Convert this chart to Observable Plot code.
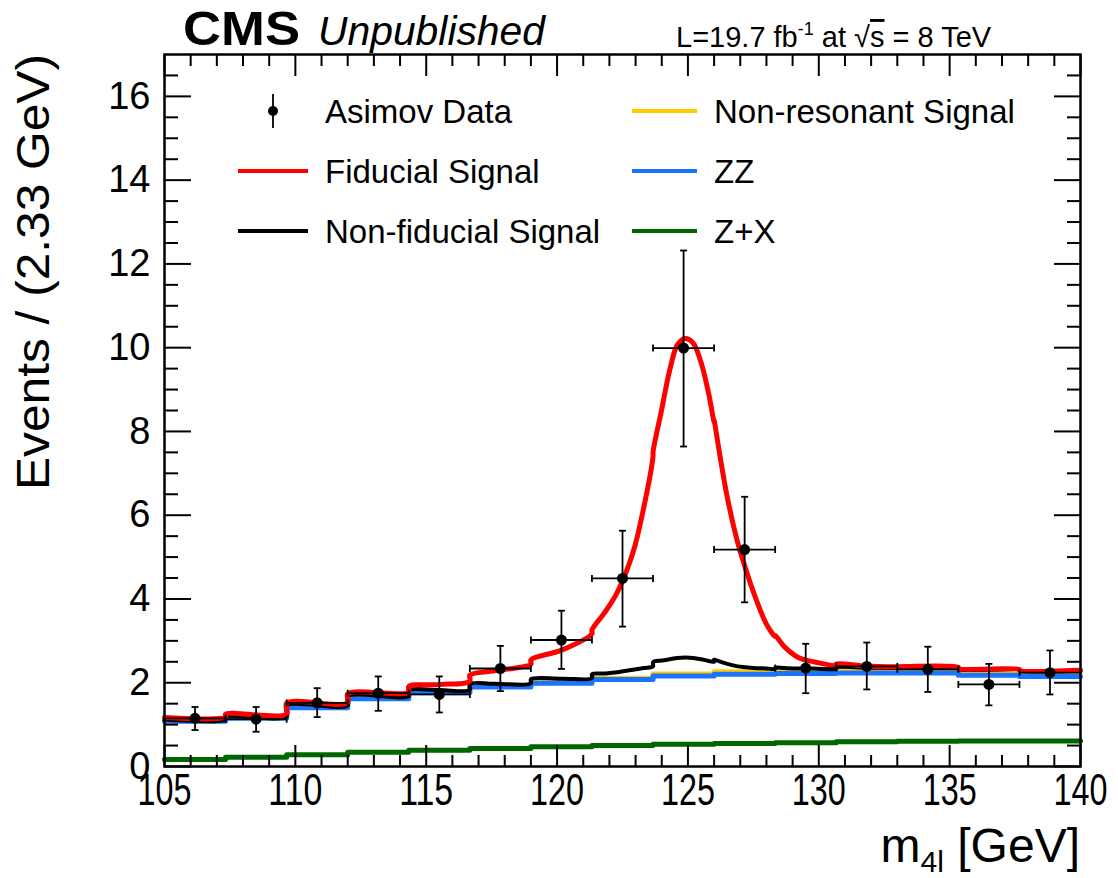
<!DOCTYPE html>
<html>
<head>
<meta charset="utf-8">
<script src="https://cdn.jsdelivr.net/npm/d3@7"></script>
<script src="https://cdn.jsdelivr.net/npm/@observablehq/plot@0.6"></script>
<style>
  body { margin: 0; background: #fff; }
  #chart { width: 1118px; height: 878px; }
</style>
</head>
<body>
<div id="chart"></div>
<script>
// ---------------- data ----------------
const binEdges = [105, 107.333, 109.667, 112, 114.333, 116.667, 119, 121.333, 123.667, 126, 128.333, 130.667, 133, 135.333, 137.667, 140];

// background templates, per bin (events / 2.33 GeV)
const zxBins     = [0.17, 0.22, 0.28, 0.34, 0.39, 0.43, 0.47, 0.50, 0.53, 0.55, 0.57, 0.59, 0.60, 0.61, 0.61];
const zzBins     = [0.91, 0.93, 1.12, 1.28, 1.37, 1.47, 1.52, 1.58, 1.63, 1.65, 1.65, 1.64, 1.63, 1.57, 1.54];
const nonresBins = [0.01, 0.01, 0.02, 0.02, 0.02, 0.02, 0.03, 0.03, 0.05, 0.06, 0.07, 0.09, 0.09, 0.11, 0.12];

// signal shapes sampled along m4l
const sigMass   = [105, 107.333, 109.667, 112, 114.333, 115.5, 116.667, 117.6, 119, 120.2, 121.333, 121.8, 122.3, 122.9, 123.3, 123.667, 124.0, 124.3, 124.6, 124.9, 125.2, 125.5, 125.8, 126, 126.2, 126.5, 126.9, 127.2, 127.5, 128.0, 128.333, 128.7, 129.2, 129.8, 130.667, 131.8, 133, 135.333, 137.667, 140];
const fidSig    = [0.05, 0.06, 0.06, 0.06, 0.09, 0.13, 0.21, 0.31, 0.46, 0.69, 1.06, 1.44, 1.91, 2.80, 3.80, 5.02, 6.00, 6.89, 7.48, 7.62, 7.52, 7.09, 6.36, 5.72, 5.00, 3.99, 2.96, 2.36, 1.82, 1.06, 0.77, 0.50, 0.27, 0.16, 0.09, 0.04, 0.03, 0.02, 0.01, 0.01];
const nonfidSig = [0.03, 0.03, 0.035, 0.04, 0.04, 0.045, 0.05, 0.055, 0.065, 0.075, 0.09, 0.11, 0.14, 0.20, 0.24, 0.28, 0.32, 0.35, 0.38, 0.39, 0.38, 0.35, 0.31, 0.29, 0.25, 0.19, 0.13, 0.11, 0.09, 0.08, 0.07, 0.06, 0.05, 0.05, 0.04, 0.04, 0.03, 0.03, 0.02, 0.02];

// Asimov data
const dataY  = [1.15, 1.13, 1.52, 1.75, 1.72, 2.34, 3.02, 4.49, 9.99, 5.18, 2.35, 2.39, 2.32, 1.96, 2.24];
const errHi  = [0.27, 0.29, 0.35, 0.40, 0.43, 0.54, 0.70, 1.14, 2.33, 1.26, 0.58, 0.57, 0.54, 0.49, 0.53];
const errLo  = [0.28, 0.30, 0.34, 0.42, 0.43, 0.54, 0.69, 1.15, 2.35, 1.26, 0.60, 0.55, 0.54, 0.50, 0.52];

// ticks
const xTicksMajor = [105, 110, 115, 120, 125, 130, 135, 140];
const xTicksMinor = [106, 107, 108, 109, 111, 112, 113, 114, 116, 117, 118, 119, 121, 122, 123, 124, 126, 127, 128, 129, 131, 132, 133, 134, 136, 137, 138, 139];
const yTicksMajor = [0, 2, 4, 6, 8, 10, 12, 14, 16];
const yTicksMinor = [0.5, 1, 1.5, 2.5, 3, 3.5, 4.5, 5, 5.5, 6.5, 7, 7.5, 8.5, 9, 9.5, 10.5, 11, 11.5, 12.5, 13, 13.5, 14.5, 15, 15.5, 16.5];

// legend
const legendNames  = ["Asimov Data", "Fiducial Signal", "Non-fiducial Signal", "Non-resonant Signal", "ZZ", "Z+X"];
const seriesColors = {fid: "#ff0000", nonfid: "#000000", nonres: "#ffcc00", zz: "#1a74ff", zx: "#006600"};

// ---------------- derived tables ----------------
const nBins = zxBins.length;
const blueBins   = zxBins.map((v, i) => v + zzBins[i]);
const yellowBins = blueBins.map((v, i) => v + nonresBins[i]);

function stepData(vals) {
  const out = vals.map((v, i) => ({x: binEdges[i], y: v}));
  out.push({x: binEdges[nBins], y: vals[nBins - 1]});
  return out;
}
function binOf(m) {
  for (let i = 0; i < nBins; i++) if (m < binEdges[i + 1] - 1e-6) return i;
  return nBins - 1;
}
function edgeIndex(m) { return binEdges.findIndex(e => Math.abs(e - m) < 1e-3); }
function stackedCurve(bg, sigs) {
  const out = [];
  sigMass.forEach((m, j) => {
    const s = sigs.reduce((a, arr) => a + arr[j], 0);
    const k = edgeIndex(m);
    if (k > 0 && k < nBins) {
      out.push({x: m, y: bg[k - 1] + s});
      out.push({x: m, y: bg[k] + s});
    } else {
      out.push({x: m, y: bg[binOf(m)] + s});
    }
  });
  return out;
}
const blackCurve = stackedCurve(yellowBins, [nonfidSig]);
const redCurve   = stackedCurve(yellowBins, [nonfidSig, fidSig]);

const points = dataY.map((y, i) => ({
  x: (binEdges[i] + binEdges[i + 1]) / 2,
  y, lo: y - errLo[i], hi: y + errHi[i],
  x1: binEdges[i], x2: binEdges[i + 1]
}));

const hCap = {draw(ctx) { ctx.moveTo(-3.5, 0); ctx.lineTo(3.5, 0); }};
const vCap = {draw(ctx) { ctx.moveTo(0, -3.5); ctx.lineTo(0, 3.5); }};

const FONT = "'Liberation Sans', Arial, Helvetica, sans-serif";
const blank = () => "";

const plot = Plot.plot({
  width: 1118,
  height: 878,
  marginLeft: 164,
  marginRight: 38,
  marginTop: 54,
  marginBottom: 112,
  style: {fontFamily: FONT, background: "#fff", color: "#000", overflow: "visible"},
  x: {domain: [105, 140]},
  y: {domain: [0, 17]},
  marks: [
    // backgrounds (stacked step histograms)
    Plot.line(stepData(zxBins),     {x: "x", y: "y", curve: "step-after", stroke: seriesColors.zx, strokeWidth: 5}),
    Plot.line(stepData(yellowBins), {x: "x", y: "y", curve: "step-after", stroke: seriesColors.nonres, strokeWidth: 5}),
    Plot.line(stepData(blueBins),   {x: "x", y: "y", curve: "step-after", stroke: seriesColors.zz, strokeWidth: 5}),
    // signals
    Plot.line(blackCurve, {x: "x", y: "y", curve: "catmull-rom", stroke: seriesColors.nonfid, strokeWidth: 4}),
    Plot.line(redCurve,   {x: "x", y: "y", curve: "catmull-rom", stroke: seriesColors.fid, strokeWidth: 5}),
    // data with error bars
    Plot.ruleX(points, {x: "x", y1: "lo", y2: "hi", stroke: "#000", strokeWidth: 1.8}),
    Plot.ruleY(points, {y: "y", x1: "x1", x2: "x2", stroke: "#000", strokeWidth: 1.8}),
    Plot.dot(points, {x: "x", y: "hi", symbol: hCap, fill: "none", stroke: "#000", strokeWidth: 1.8}),
    Plot.dot(points, {x: "x", y: "lo", symbol: hCap, fill: "none", stroke: "#000", strokeWidth: 1.8}),
    Plot.dot(points, {x: "x1", y: "y", symbol: vCap, fill: "none", stroke: "#000", strokeWidth: 1.8}),
    Plot.dot(points, {x: "x2", y: "y", symbol: vCap, fill: "none", stroke: "#000", strokeWidth: 1.8}),
    Plot.dot(points, {x: "x", y: "y", r: 5.5, fill: "#000", stroke: "none"}),
    // axes: labels
    Plot.axisX({ticks: xTicksMajor, anchor: "bottom", tickSize: 0, tickPadding: 7, fontSize: 44, label: null, tickFormat: d => String(d)}),
    Plot.axisY({ticks: yTicksMajor, anchor: "left", tickSize: 0, tickPadding: 14, fontSize: 38, label: null, tickFormat: d => String(d)}),
    // axes: inward ticks on all four sides
    Plot.axisX({ticks: xTicksMajor, anchor: "bottom", tickSize: -21, strokeWidth: 2, tickFormat: blank, label: null}),
    Plot.axisX({ticks: xTicksMinor, anchor: "bottom", tickSize: -11, strokeWidth: 2, tickFormat: blank, label: null}),
    Plot.axisX({ticks: xTicksMajor, anchor: "top", tickSize: -21, strokeWidth: 2, tickFormat: blank, label: null}),
    Plot.axisX({ticks: xTicksMinor, anchor: "top", tickSize: -11, strokeWidth: 2, tickFormat: blank, label: null}),
    Plot.axisY({ticks: yTicksMajor, anchor: "left", tickSize: -27, strokeWidth: 2, tickFormat: blank, label: null}),
    Plot.axisY({ticks: yTicksMinor, anchor: "left", tickSize: -14, strokeWidth: 2, tickFormat: blank, label: null}),
    Plot.axisY({ticks: yTicksMajor, anchor: "right", tickSize: -27, strokeWidth: 2, tickFormat: blank, label: null}),
    Plot.axisY({ticks: yTicksMinor, anchor: "right", tickSize: -14, strokeWidth: 2, tickFormat: blank, label: null}),
    Plot.frame({stroke: "#000", strokeWidth: 2.5})
  ]
});

document.getElementById("chart").appendChild(plot);
const svg = d3.select(plot);

// condensed x tick labels, as in the reference
svg.selectAll('g[aria-label="x-axis tick label"] text').each(function() {
  if (this.textContent) {
    this.setAttribute("textLength", 54);
    this.setAttribute("lengthAdjust", "spacingAndGlyphs");
  }
});

// ---------------- titles ----------------
const t = svg.append("g").attr("font-family", FONT).attr("fill", "#000").attr("text-anchor", "start");
t.append("text").attr("x", 183).attr("y", 45).attr("font-size", 48).attr("font-weight", "bold")
  .attr("textLength", 117).attr("lengthAdjust", "spacingAndGlyphs").text("CMS");
t.append("text").attr("x", 318).attr("y", 45).attr("font-size", 40).attr("font-style", "italic")
  .attr("textLength", 227).attr("lengthAdjust", "spacingAndGlyphs").text("Unpublished");

const lumi = t.append("text").attr("x", 676).attr("y", 47).attr("font-size", 29);
lumi.append("tspan").text("L=19.7 fb");
lumi.append("tspan").attr("font-size", 18).attr("dy", -12).text("-1");
lumi.append("tspan").attr("dy", 12).text(" at \u221A");
lumi.append("tspan").attr("text-decoration", "overline").text("s");
lumi.append("tspan").text(" = 8 TeV");

t.append("text").attr("transform", "translate(49,490) rotate(-90)").attr("font-size", 46)
  .attr("textLength", 436).attr("lengthAdjust", "spacingAndGlyphs").text("Events / (2.33 GeV)");

const xt = t.append("text").attr("x", 1080).attr("y", 862).attr("font-size", 48).attr("text-anchor", "end");
xt.append("tspan").text("m");
xt.append("tspan").attr("font-size", 30).attr("dy", 10).text("4l");
xt.append("tspan").attr("dy", -10).text(" [GeV]");

// ---------------- legend ----------------
const lg = svg.append("g").attr("font-family", FONT).attr("text-anchor", "start");
const rowY = [111, 171, 231];
const legendItems = [
  {name: legendNames[0], col: 0, row: 0, type: "data"},
  {name: legendNames[1], col: 0, row: 1, color: seriesColors.fid},
  {name: legendNames[2], col: 0, row: 2, color: seriesColors.nonfid},
  {name: legendNames[3], col: 1, row: 0, color: seriesColors.nonres},
  {name: legendNames[4], col: 1, row: 1, color: seriesColors.zz},
  {name: legendNames[5], col: 1, row: 2, color: seriesColors.zx}
];
const colLine = [[238, 308], [632, 697]];
const colText = [325, 714];
legendItems.forEach(d => {
  const y = rowY[d.row];
  const [a, b] = colLine[d.col];
  if (d.type === "data") {
    const cx = (a + b) / 2;
    lg.append("line").attr("x1", cx).attr("x2", cx).attr("y1", y - 17).attr("y2", y + 17)
      .attr("stroke", "#000").attr("stroke-width", 1.8);
    lg.append("circle").attr("cx", cx).attr("cy", y).attr("r", 5).attr("fill", "#000");
  } else {
    lg.append("line").attr("x1", a).attr("x2", b).attr("y1", y).attr("y2", y)
      .attr("stroke", d.color).attr("stroke-width", 4);
  }
  lg.append("text").attr("x", colText[d.col]).attr("y", y).attr("dy", "0.35em")
    .attr("font-size", 33).attr("fill", "#000").text(d.name);
});
</script>
</body>
</html>
